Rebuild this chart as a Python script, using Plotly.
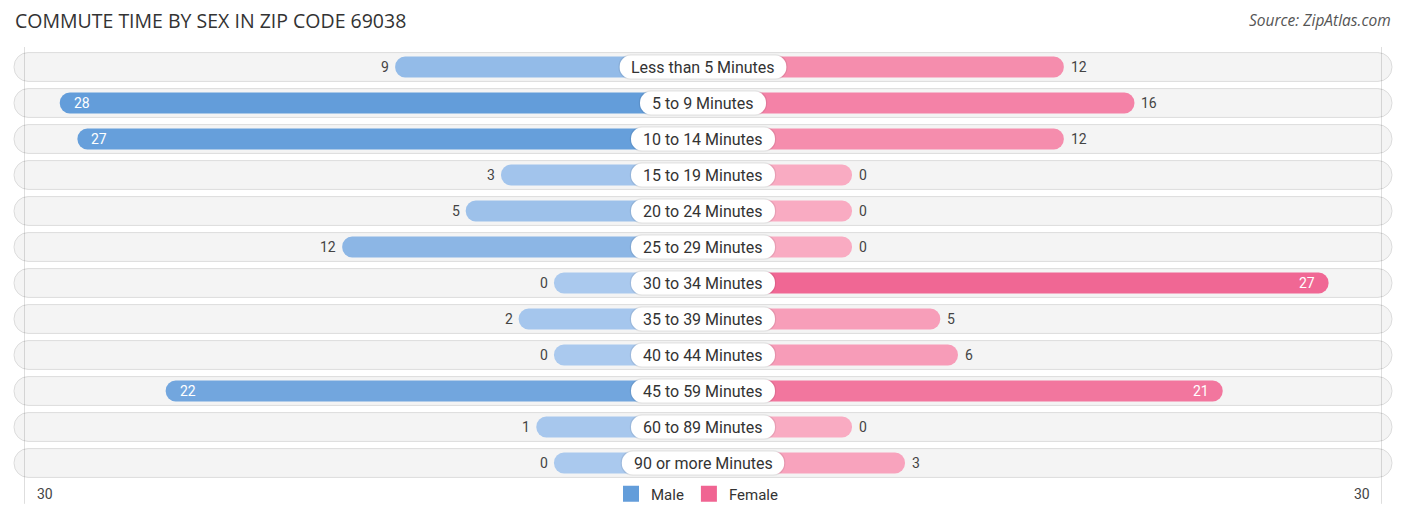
import plotly.graph_objects as go

categories = ["Less than 5 Minutes", "5 to 9 Minutes", "10 to 14 Minutes", "15 to 19 Minutes",
              "20 to 24 Minutes", "25 to 29 Minutes", "30 to 34 Minutes", "35 to 39 Minutes",
              "40 to 44 Minutes", "45 to 59 Minutes", "60 to 89 Minutes", "90 or more Minutes"]
male = [9, 28, 27, 3, 5, 12, 0, 2, 0, 22, 1, 0]
female = [12, 16, 12, 0, 0, 0, 27, 5, 6, 21, 0, 3]
axis_max = 30
axis_tick_labels = ["30", "30"]

# ---- geometry (pixels) ----
W, H = 1406, 522
ML, MR, MT, MB = 13, 13, 49, 38
PLOT_W = W - ML - MR
PLOT_H = H - MT - MB
n = len(categories)
ROW_PX = PLOT_H / n
K = 17.65                     # px per unit
R = PLOT_W / 2 / K            # half range in units
OFF = 149 / K                 # stub length under the label

def rows(px):
    return px / ROW_PX

def units(px):
    return px / K

def mix(c0, c1, t):
    return "rgb(%d,%d,%d)" % tuple(round(a + (b - a) * t) for a, b in zip(c0, c1))

vmax = max(male + female)
M_LIGHT, M_STRONG = (170, 201, 238), (99, 157, 218)
F_LIGHT, F_STRONG = (249, 171, 194), (240, 100, 146)
male_colors = [mix(M_LIGHT, M_STRONG, v / vmax) for v in male]
female_colors = [mix(F_LIGHT, F_STRONG, v / vmax) for v in female]

# Roboto advance widths (per 2048 em) for label pill sizing
CW = {" ": 507, "a": 1089, "e": 1058, "h": 1103, "i": 486, "n": 1104, "o": 1141, "r": 677,
      "s": 1033, "t": 654, "u": 1103, "m": 1751, "L": 1077, "M": 1744}
LABEL_FS = 16
def text_px(s):
    return sum(CW.get(c, 1150) for c in s) * LABEL_FS / 2048
label_half = [units(text_px(c) / 2 + 13) for c in categories]

ypos = list(range(n))
fig = go.Figure()

common = dict(orientation="h", hoverinfo="skip", showlegend=False)

# background pills
bg_half = R - 0.06
fig.add_trace(go.Bar(y=ypos, x=[2 * bg_half] * n, base=[-bg_half] * n, width=rows(29),
                     marker=dict(color="#f4f4f4", line=dict(color="#dcdcdc", width=1),
                                 cornerradius=14), **common))

# male / female bars
fig.add_trace(go.Bar(y=ypos, x=[-(v + OFF) for v in male], base=0, width=rows(21),
                     marker=dict(color=male_colors, line=dict(width=0), cornerradius=10), **common))
fig.add_trace(go.Bar(y=ypos, x=[(v + OFF) for v in female], base=0, width=rows(21),
                     marker=dict(color=female_colors, line=dict(width=0), cornerradius=10), **common))

# label pills: soft shadow then white
fig.add_trace(go.Bar(y=ypos, x=[2 * (h + units(1.2)) for h in label_half],
                     base=[-(h + units(1.2)) for h in label_half], width=rows(25.5),
                     marker=dict(color="rgba(0,0,0,0.07)", line=dict(width=0), cornerradius=12),
                     **common))
fig.add_trace(go.Bar(y=ypos, x=[2 * h for h in label_half], base=[-h for h in label_half],
                     width=rows(23),
                     marker=dict(color="#ffffff", line=dict(width=0), cornerradius=11),
                     **common))

# legend entries
fig.add_trace(go.Scatter(x=[None], y=[None], mode="markers", name="Male",
                         marker=dict(symbol="square", size=16, color=mix(M_LIGHT, M_STRONG, 1))))
fig.add_trace(go.Scatter(x=[None], y=[None], mode="markers", name="Female",
                         marker=dict(symbol="square", size=16, color=mix(F_LIGHT, F_STRONG, 1))))

ann = []
for i, c in enumerate(categories):
    ann.append(dict(x=0, y=i, xref="x", yref="y", text=c, showarrow=False,
                    font=dict(family="Roboto", size=LABEL_FS, color="#333333")))
inside_thr = 0.75 * vmax
for i, v in enumerate(male):
    if v >= inside_thr:
        ann.append(dict(x=-(v + OFF), y=i, xref="x", yref="y", text=str(v), showarrow=False,
                        xanchor="left", xshift=12,
                        font=dict(family="Roboto", size=14, color="#ffffff")))
    else:
        ann.append(dict(x=-(v + OFF), y=i, xref="x", yref="y", text=str(v), showarrow=False,
                        xanchor="right", xshift=-4,
                        font=dict(family="Roboto", size=14, color="#444444")))
for i, v in enumerate(female):
    if v >= inside_thr:
        ann.append(dict(x=v + OFF, y=i, xref="x", yref="y", text=str(v), showarrow=False,
                        xanchor="right", xshift=-12,
                        font=dict(family="Roboto", size=14, color="#ffffff")))
    else:
        ann.append(dict(x=v + OFF, y=i, xref="x", yref="y", text=str(v), showarrow=False,
                        xanchor="left", xshift=5,
                        font=dict(family="Roboto", size=14, color="#444444")))

# axis end labels
tick_y = -(497 - (MT + PLOT_H)) / PLOT_H
ann.append(dict(x=-(axis_max + OFF), y=tick_y, xref="x", yref="paper", text=axis_tick_labels[0],
                showarrow=False, xanchor="center", yanchor="middle", xshift=20,
                font=dict(family="Roboto", size=14, color="#444444")))
ann.append(dict(x=(axis_max + OFF), y=tick_y, xref="x", yref="paper", text=axis_tick_labels[1],
                showarrow=False, xanchor="center", yanchor="middle", xshift=-20,
                font=dict(family="Roboto", size=14, color="#444444")))

# title & source
title_y = 1 + (MT - 20) / PLOT_H
ann.append(dict(x=0, y=title_y, xref="paper", yref="paper", text="COMMUTE TIME BY SEX IN ZIP CODE 69038",
                showarrow=False, xanchor="left", yanchor="middle",
                font=dict(family="Open Sans", size=19.5, color="#333333")))
ann.append(dict(x=1, y=title_y, xref="paper", yref="paper", text="<i>Source: ZipAtlas.com</i>",
                showarrow=False, xanchor="right", yanchor="middle",
                font=dict(family="Open Sans", size=15.5, color="#555555")))

shapes = []
for sgn in (-1, 1):
    shapes.append(dict(type="line", xref="x", yref="paper", x0=sgn * (axis_max + OFF),
                       x1=sgn * (axis_max + OFF), y0=-(507 - MT - PLOT_H) / PLOT_H,
                       y1=1 + 2 / PLOT_H, layer="above",
                       line=dict(color="rgba(0,0,0,0.13)", width=1)))

fig.update_layout(
    width=W, height=H,
    margin=dict(l=ML, r=MR, t=MT, b=MB, pad=0),
    barmode="overlay",
    plot_bgcolor="#ffffff", paper_bgcolor="#ffffff",
    xaxis=dict(range=[-R, R], visible=False, fixedrange=True),
    yaxis=dict(range=[n - 0.5, -0.5], visible=False, fixedrange=True),
    showlegend=True,
    legend=dict(orientation="h", x=0.5 - 6 / PLOT_W, xanchor="center", y=tick_y, yanchor="middle",
                font=dict(family="Roboto", size=15, color="#333333"),
                bgcolor="rgba(0,0,0,0)", tracegroupgap=0),
    annotations=ann,
    shapes=shapes,
)

fig.write_html("out.html", config={"displayModeBar": False},
               post_script="document.body.style.margin='0';document.body.style.overflow='hidden';")
